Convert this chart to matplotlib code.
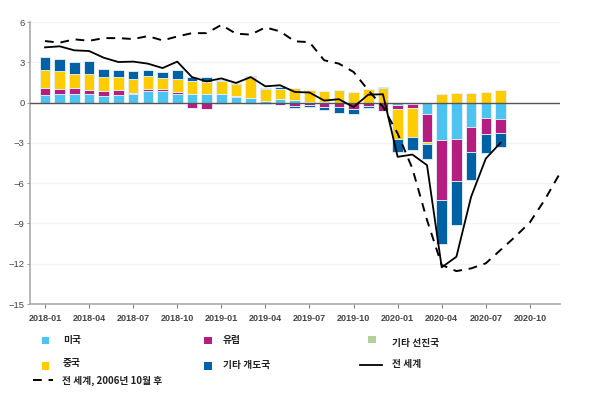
import matplotlib
matplotlib.use("Agg")
import matplotlib.pyplot as plt
import numpy as np
from matplotlib.patches import Rectangle
from matplotlib.lines import Line2D

# ---------------- data ----------------
months = ["2018-01", "2018-02", "2018-03", "2018-04", "2018-05", "2018-06", "2018-07", "2018-08",
          "2018-09", "2018-10", "2018-11", "2018-12", "2019-01", "2019-02", "2019-03", "2019-04",
          "2019-05", "2019-06", "2019-07", "2019-08", "2019-09", "2019-10", "2019-11", "2019-12",
          "2020-01", "2020-02", "2020-03", "2020-04", "2020-05", "2020-06", "2020-07", "2020-08",
          "2020-09", "2020-10", "2020-11", "2020-12"]

us = [0.55, 0.67, 0.65, 0.65, 0.47, 0.57, 0.65, 0.89, 0.89, 0.67, 0.67, 0.65, 0.62, 0.42, 0.37, 0.08,
      0.28, 0.17, 0.05, 0.03, 0.0, 0.0, 0.0, 0.0, -0.15, -0.07, -0.82, -2.80, -2.73, -1.84, -1.17, -1.22]
europe = [0.55, 0.35, 0.47, 0.30, 0.37, 0.40, 0.10, 0.10, 0.12, 0.12, -0.40, -0.46, -0.12, 0.08, -0.08, -0.12,
          -0.15, -0.25, -0.20, -0.32, -0.32, -0.48, -0.27, -0.62, -0.30, -0.30, -2.10, -4.47, -3.10, -1.84, -1.14, -1.02]
other_adv = [0.0] * 32
china = [1.29, 1.31, 1.04, 1.17, 1.09, 0.92, 0.99, 0.97, 0.82, 0.93, 0.92, 0.90, 0.95, 0.91, 1.50, 0.95,
         0.76, 0.94, 0.88, 0.80, 0.90, 0.76, 1.04, 1.12, -2.23, -2.18, -0.17, 0.62, 0.72, 0.74, 0.82, 0.94]
other_em = [0.97, 0.94, 0.89, 0.94, 0.57, 0.50, 0.60, 0.45, 0.42, 0.71, 0.35, 0.32, 0.13, 0.08, 0.10, 0.08,
            0.12, -0.12, -0.10, -0.20, -0.45, -0.40, -0.12, 0.07, -1.02, -1.00, -1.14, -3.23, -3.30, -2.06, -1.41, -1.07]

world = [4.11, 4.19, 3.89, 3.84, 3.34, 3.02, 3.05, 2.90, 2.57, 3.05, 1.90, 1.58, 1.80, 1.46, 1.90, 1.21,
         1.29, 0.79, 0.75, 0.15, 0.25, -0.33, 0.59, 0.62, -4.04, -3.87, -4.66, -12.27, -11.48, -7.02, -4.17, -3.00]
world_post2006 = [4.58, 4.46, 4.71, 4.60, 4.80, 4.80, 4.73, 4.95, 4.63, 4.92, 5.17, 5.17, 5.78, 5.13, 5.06, 5.60,
                  5.30, 4.56, 4.50, 3.15, 2.90, 2.28, 0.92, -0.32, -2.30, -4.90, -8.75, -12.10, -12.55, -12.35,
                  -11.97, -10.98, -9.99, -8.92, -7.26, -5.35]

series_names = ["미국", "유럽", "기타 선진국", "중국", "기타 개도국"]
series_vals = [us, europe, other_adv, china, other_em]
colors = ["#4DC3F2", "#B51E80", "#B3CF9A", "#FFCC00", "#0062A4"]

tick_idx = list(range(0, 36, 3))
tick_labels = [months[i] for i in tick_idx]
yticks = [-15, -12, -9, -6, -3, 0, 3, 6]

# ---------------- figure ----------------
W, H = 597, 395
fig = plt.figure(figsize=(W / 100, H / 100), dpi=100)
ax = fig.add_axes([30 / W, 1 - 304 / H, 530 / W, 282 / H])

x = np.arange(len(us))
pos_bottom = np.zeros(len(us))
neg_bottom = np.zeros(len(us))
for vals, c in zip(series_vals, colors):
    v = np.array(vals, dtype=float)
    p = np.where(v > 0, v, 0)
    n = np.where(v < 0, v, 0)
    ax.bar(x, p, bottom=pos_bottom, width=0.72, color=c, edgecolor="#E6F2FA", linewidth=0.6, zorder=3)
    ax.bar(x, n, bottom=neg_bottom, width=0.72, color=c, edgecolor="#E6F2FA", linewidth=0.6, zorder=3)
    pos_bottom += p
    neg_bottom += n

ax.plot(np.arange(len(world)), world, color="black", lw=1.3, zorder=5)
ax.plot(np.arange(len(world_post2006)), world_post2006, color="black", lw=1.4,
        dashes=(4.5, 3.5), zorder=5)

ax.axhline(0, color="#555555", lw=1.0, zorder=4)
for yv in [6, 3, -3, -6, -9, -12]:
    ax.axhline(yv, color="#EEF4FA", lw=1.0, zorder=1)

ax.set_xlim(-1.02, 35.05)
ax.set_ylim(-15, 6)
ax.set_yticks(yticks)
ax.set_yticklabels([str(v) if v >= 0 else "\u2212" + str(-v) for v in yticks],
                   fontsize=6.8, color="#444444", family="Liberation Sans")
ax.set_xticks(tick_idx)
ax.set_xticklabels(tick_labels, fontsize=6.5, color="#444444", family="Liberation Sans", fontweight="bold")
ax.tick_params(axis="y", length=2.5, width=0.7, color="#999999", pad=1.5)
ax.tick_params(axis="x", length=3, width=0.7, color="#777777", pad=4)

for s in ["top", "right"]:
    ax.spines[s].set_visible(False)
ax.spines["left"].set_color("#AAAAAA")
ax.spines["left"].set_linewidth(1.2)
ax.spines["bottom"].set_color("#AAAAAA")
ax.spines["bottom"].set_linewidth(1.2)

# ---------------- legend (pixel coordinates) ----------------
lg = fig.add_axes([0, 0, 1, 1])
lg.set_xlim(0, W)
lg.set_ylim(H, 0)
lg.axis("off")
kfont = ["Noto Sans CJK KR", "DejaVu Sans"]

def sq(x0, y0, c):
    lg.add_patch(Rectangle((x0, y0), 7.5, 7.5, facecolor=c, edgecolor="none"))

def txt(x0, y0, s):
    lg.text(x0, y0, s, fontsize=7, family=kfont, fontweight="bold", color="#222222",
            va="center", ha="left")

sq(41.5, 336.5, colors[0]); txt(63, 340, series_names[0])
sq(204, 336.5, colors[1]); txt(223, 340, series_names[1])
sq(368, 335.5, colors[2]); txt(392, 343, series_names[2])
sq(41.5, 362, colors[3]); txt(63, 363, series_names[3])
sq(204, 362, colors[4]); txt(223, 365, series_names[4])
lg.add_line(Line2D([360, 382], [365, 365], color="black", lw=1.3))
txt(392, 364, "전 세계")
lg.add_line(Line2D([33, 53], [380, 380], color="black", lw=1.4, dashes=(4.5, 3.5)))
txt(62, 381, "전 세계, 2006년 10월 후")

fig.savefig("out.png", dpi=100)
